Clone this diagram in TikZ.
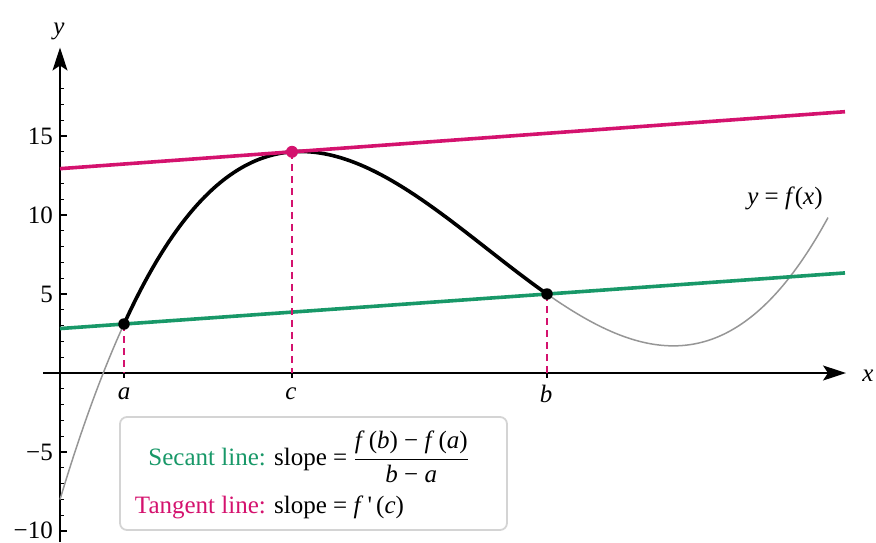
\documentclass[tikz,border=0pt]{standalone}
\usepackage{fontspec}
\setmainfont{Liberation Serif}
\usetikzlibrary{arrows.meta}
\definecolor{secgreen}{RGB}{24,152,104}
\definecolor{tanmag}{RGB}{212,18,110}
\definecolor{curvegray}{RGB}{150,150,150}
\definecolor{boxgray}{RGB}{212,212,212}
\begin{document}
\begin{tikzpicture}[x=1pt,y=15.8pt,
  font=\fontsize{25}{29}\selectfont,
  declare function={f(\x)=3.1+0.44917*(\x/100-1.24)+0.4755*(\x/100-1.24)*(\x/100-5.47)*(\x/100-7.90);},
  axisline/.style={line width=1.5pt,-{Stealth[length=23pt,width=15pt,inset=5pt]}},
  minortick/.style={line width=1.1pt},
  thinfun/.style={curvegray,line width=1.5pt},
  thickfun/.style={black,line width=3.6pt},
  secline/.style={secgreen,line width=3.6pt},
  tanline/.style={tanmag,line width=3.6pt},
  dropline/.style={tanmag,line width=1.6pt,dash pattern=on 7pt off 5pt},
  blackdot/.style={circle,fill=black,inner sep=0pt,minimum size=11.5pt},
  magdot/.style={circle,fill=tanmag,inner sep=0pt,minimum size=12pt},
  ticklab/.style={anchor=east,inner sep=0pt},
  ptlab/.style={inner sep=0pt,font=\fontsize{25}{29}\selectfont\itshape},
  legendbox/.style={draw=boxgray,line width=1.8pt,rounded corners=7pt,minimum width=387pt,minimum height=113pt,inner sep=0pt}
]
\useasboundingbox (0,-10.696) rectangle (876,23.608);
% axes
\coordinate (xstart) at (43,0);
\coordinate (xend) at (846,0);
\coordinate (ystart) at (60,-10.696);
\coordinate (yend) at (60,20.6);
\draw[axisline] (xstart) -- (xend);
\draw[axisline] (ystart) -- (yend);
\node[inner sep=0pt,font=\fontsize{25}{29}\selectfont\itshape] (xlab) at (868,-0.2) {x};
\node[inner sep=0pt,font=\fontsize{25}{29}\selectfont\itshape] (ylab) at (59,21.6) {y};
% y ticks
\foreach \k in {-10,...,18}{
  \ifnum\k=0\relax\else
  \draw[minortick] (60,\k) -- ++(4pt,0);
  \fi
}
\foreach \k in {-10,-5,5,10,15}{
  \draw[minortick] (60,\k) -- ++(7pt,0);
}
\node[ticklab] (l15) at (53,15) {15};
\node[ticklab] (l10) at (53,10) {10};
\node[ticklab] (l5) at (53,5) {5};
\node[ticklab] (lm5) at (53,-5) {−5};
\node[ticklab] (lm10) at (53,-9.95) {−10};
% function
\draw[thinfun] plot[domain=60:828,samples=120,smooth] (\x,{f(\x)});
\draw[thickfun] plot[domain=124:547,samples=80,smooth] (\x,{f(\x)});
% points
\coordinate (A) at (124,3.1);
\coordinate (B) at (547,5.0);
\coordinate (C) at (292,{f(292)});
\coordinate (A0) at (124,0);
\coordinate (B0) at (547,0);
\coordinate (C0) at (292,0);
% secant and tangent
\coordinate (S1) at (60,{3.1-64*0.0044917});
\coordinate (S2) at (845,{3.1+721*0.0044917});
\coordinate (T1) at (60,{f(292)-232*0.0046});
\coordinate (T2) at (845,{f(292)+553*0.0046});
\draw[secline] (S1) -- (S2);
\draw[tanline] (T1) -- (T2);
% drop lines
\draw[dropline] (A) -- (A0);
\draw[dropline] (C) -- (C0);
\draw[dropline] (B) -- (B0);
\draw[line width=1.3pt] (A0) -- ++(0,-5pt);
\draw[line width=1.3pt] (C0) -- ++(0,-5pt);
\draw[line width=1.3pt] (B0) -- ++(0,-5pt);
\node[blackdot] (Ad) at (A) {};
\node[blackdot] (Bd) at (B) {};
\node[magdot] (Cd) at (C) {};
\node[ptlab] (alab) at (124,-1.3) {a};
\node[ptlab] (clab) at (291,-1.3) {c};
\node[ptlab] (blab) at (546,-1.3) {b};
\node[inner sep=0pt] (flab) at (785,11.08) {\textit{y} = \textit{f}(\textit{x})};
% legend
\node[legendbox] (legend) at (313.5,-6.361) {};
\node[anchor=base east,inner sep=0pt,text=secgreen] (seclab) at (266,-5.823) {Secant line:};
\node[anchor=base west,inner sep=0pt] (secfor) at (274,-5.823) {slope = $\displaystyle\frac{\mbox{\textit{f}\,(\textit{b}) − \textit{f}\,(\textit{a})}}{\mbox{\textit{b} − \textit{a}}}$};
\node[anchor=base east,inner sep=0pt,text=tanmag] (tanlab) at (266,-8.861) {Tangent line:};
\node[anchor=base west,inner sep=0pt] (tanfor) at (274,-8.861) {slope = \textit{f}\,\textquotesingle\,(\textit{c})};
\end{tikzpicture}
\end{document}
